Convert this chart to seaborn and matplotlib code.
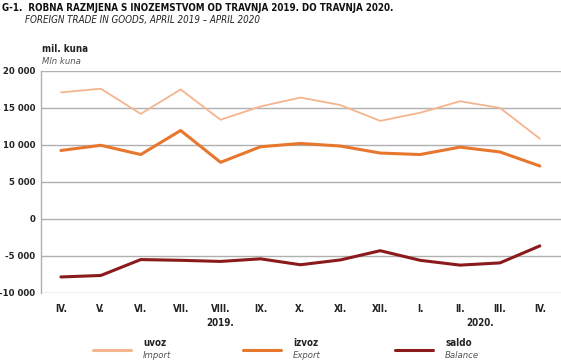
import numpy as np
import pandas as pd
import matplotlib
matplotlib.use("Agg")
import matplotlib.pyplot as plt
import seaborn as sns

# -----------------------------
# DATA (mil. kuna), April 2019 - April 2020
# -----------------------------
months = ["IV.", "V.", "VI.", "VII.", "VIII.", "IX.", "X.", "XI.", "XII.",
          "I.", "II.", "III.", "IV."]
uvoz = [17100, 17600, 14200, 17500, 13400, 15200, 16400, 15400, 13250,
        14350, 15900, 15000, 10850]
izvoz = [9250, 9950, 8700, 11950, 7650, 9750, 10200, 9850, 8900,
         8700, 9700, 9050, 7150]
saldo = [-7850, -7650, -5500, -5600, -5750, -5400, -6200, -5550, -4300,
         -5600, -6250, -5950, -3650]
y_ticks = [-10000, -5000, 0, 5000, 10000, 15000, 20000]

series_names = ["uvoz", "izvoz", "saldo"]
series_en = ["Import", "Export", "Balance"]
colors = ["#f5b48e", "#e8772e", "#8b1a1c"]
widths = [1.3, 2.2, 2.2]

df = pd.DataFrame({"x": np.arange(len(months)), "uvoz": uvoz,
                   "izvoz": izvoz, "saldo": saldo})
long_df = df.melt(id_vars="x", var_name="serija", value_name="vrijednost")

# -----------------------------
# PLOT
# -----------------------------
sns.set_style("white")
plt.rcParams['font.family'] = ['DejaVu Sans']
plt.rcParams['font.stretch'] = 'condensed'

fig = plt.figure(figsize=(5.61, 3.62), dpi=100)
ax = fig.add_axes([0.073, 0.191, 0.927, 0.613])

for name, c, lw in zip(series_names, colors, widths):
    sns.lineplot(data=long_df[long_df["serija"] == name], x="x", y="vrijednost",
                 color=c, linewidth=lw, ax=ax, legend=False)

ax.set_xlim(-0.5, len(months) - 0.5 + 0.03)
ax.set_ylim(-10000, 20000)
ax.set_yticks(y_ticks)
ax.set_yticklabels([f"{v:,}".replace(",", " ") for v in y_ticks], fontsize=6.8,
                   fontweight="bold", color="#222222")
ax.set_xticks(range(len(months)))
ax.set_xticklabels(months, fontsize=7, fontweight="bold", color="#222222")
ax.tick_params(axis="y", length=0, pad=4)
ax.tick_params(axis="x", length=0, pad=8)
ax.grid(axis="y", color="#b0b0b0", linewidth=1)
ax.set_xlabel("")
ax.set_ylabel("")
for s in ["top", "right", "bottom"]:
    ax.spines[s].set_visible(False)
ax.spines["left"].set_color("#b0b0b0")
ax.spines["left"].set_linewidth(1)

# year labels
ax.text(4, -14100, "2019.", ha="center", va="center", fontsize=7,
        fontweight="bold", color="#222222")
ax.text(10.5, -14100, "2020.", ha="center", va="center", fontsize=7,
        fontweight="bold", color="#222222")

# titles
fig.text(0.003, 0.978, "G-1.  ROBNA RAZMJENA S INOZEMSTVOM OD TRAVNJA 2019. DO TRAVNJA 2020.",
         ha="left", va="center", fontsize=7, fontweight="bold", color="#111111")
fig.text(0.045, 0.944, "FOREIGN TRADE IN GOODS, APRIL 2019 – APRIL 2020",
         ha="left", va="center", fontsize=7, style="italic", color="#222222")
fig.text(0.075, 0.865, "mil. kuna", ha="left", va="center", fontsize=7,
         fontweight="bold", color="#222222")
fig.text(0.075, 0.831, "Mln kuna", ha="left", va="center", fontsize=6.8,
         style="italic", color="#555555")

# legend
leg_x = [93, 243, 395]
for lx, name, en, c, lw in zip(leg_x, series_names, series_en, colors, widths):
    fig.add_artist(plt.Line2D([lx / 561, (lx + 38) / 561], [1 - 350 / 362] * 2,
                              color=c, linewidth=2.2,
                              transform=fig.transFigure))
    fig.text((lx + 50) / 561, 1 - 343 / 362, name, ha="left", va="center",
             fontsize=7, fontweight="bold", color="#222222")
    fig.text((lx + 50) / 561, 1 - 355 / 362, en, ha="left", va="center",
             fontsize=6.8, style="italic", color="#555555")

fig.savefig("out.png", dpi=100)
